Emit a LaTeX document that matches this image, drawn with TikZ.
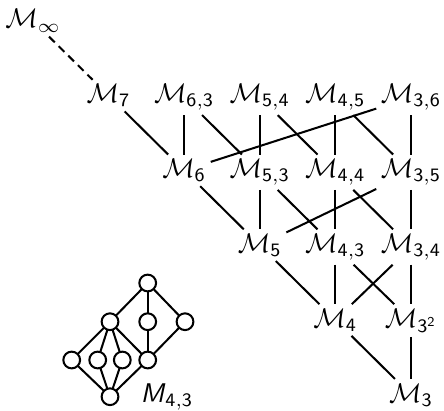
\documentclass[tikz,border=0pt]{standalone}
\usetikzlibrary{arrows.meta}
\newcommand{\Mcal}[1]{$\mathcal{M}_{#1}$}
\begin{document}
\begin{tikzpicture}[x=0.37pt,y=-0.37pt,
  lat/.style={inner sep=1.5pt,anchor=base,font=\fontsize{10}{12}\selectfont},
  edge/.style={line width=0.75pt},
  dot/.style={circle,draw,line width=0.75pt,fill=white,minimum size=6.2pt,inner sep=0pt},
  thin/.style={line width=0.75pt}]
\useasboundingbox (0,0) rectangle (444,410);
% column and row positions of the lattice of structures
\def\cx#1{33+75.6*#1}
\def\ry#1{28+74.8*#1}
\node[lat] (minf) at ({\cx{0}},{\ry{0}}) {$\mathcal{M}_\infty$};
\node[lat] (m7)  at ({\cx{1}},{\ry{1}}) {\Mcal{\mathsf{7}}};
\node[lat] (m63) at ({\cx{2}},{\ry{1}}) {\Mcal{\mathsf{6,3}}};
\node[lat] (m54) at ({\cx{3}},{\ry{1}}) {\Mcal{\mathsf{5,4}}};
\node[lat] (m45) at ({\cx{4}},{\ry{1}}) {\Mcal{\mathsf{4,5}}};
\node[lat] (m36) at ({\cx{5}},{\ry{1}}) {\Mcal{\mathsf{3,6}}};
\node[lat] (m6)  at ({\cx{2}},{\ry{2}}) {\Mcal{\mathsf{6}}};
\node[lat] (m53) at ({\cx{3}},{\ry{2}}) {\Mcal{\mathsf{5,3}}};
\node[lat] (m44) at ({\cx{4}},{\ry{2}}) {\Mcal{\mathsf{4,4}}};
\node[lat] (m35) at ({\cx{5}},{\ry{2}}) {\Mcal{\mathsf{3,5}}};
\node[lat] (m5)  at ({\cx{3}},{\ry{3}}) {\Mcal{\mathsf{5}}};
\node[lat] (m43) at ({\cx{4}},{\ry{3}}) {\Mcal{\mathsf{4,3}}};
\node[lat] (m34) at ({\cx{5}},{\ry{3}}) {\Mcal{\mathsf{3,4}}};
\node[lat] (m4)  at ({\cx{4}},{\ry{4}}) {\Mcal{\mathsf{4}}};
\node[lat] (m32) at ({\cx{5}},{\ry{4}}) {\Mcal{\mathsf{3}^{\mathsf{2}}}};
\node[lat] (m3)  at ({\cx{5}},{\ry{5}}) {\Mcal{\mathsf{3}}};
% covering relations
\draw[edge,dash pattern=on 3pt off 2pt] (minf) -- (m7);
\draw[edge] (m7) -- (m6);
\draw[edge] (m63) -- (m6);  \draw[edge] (m63) -- (m53);
\draw[edge] (m54) -- (m53); \draw[edge] (m54) -- (m44);
\draw[edge] (m45) -- (m44); \draw[edge] (m45) -- (m35);
\draw[edge] (m36) -- (m35); \draw[edge] (m36) -- (m6);
\draw[edge] (m6) -- (m5);
\draw[edge] (m53) -- (m5);  \draw[edge] (m53) -- (m43);
\draw[edge] (m44) -- (m43); \draw[edge] (m44) -- (m34);
\draw[edge] (m35) -- (m34); \draw[edge] (m35) -- (m5);
\draw[edge] (m5) -- (m4);
\draw[edge] (m43) -- (m4);  \draw[edge] (m43) -- (m32);
\draw[edge] (m34) -- (m4);  \draw[edge] (m34) -- (m32);
\draw[edge] (m4) -- (m3);   \draw[edge] (m32) -- (m3);
% Hasse diagram of M_{4,3}
\coordinate (t)  at (147.7,283);
\coordinate (u1) at (110,321.7);
\coordinate (u2) at (147.7,321.7);
\coordinate (u3) at (185,321.7);
\coordinate (a1) at (71.7,360);
\coordinate (a2) at (97.7,360);
\coordinate (a3) at (122.3,360);
\coordinate (a4) at (147.7,360);
\coordinate (b)  at (110,396.7);
\foreach \p/\q in {t/u1,t/u2,t/u3,u1/a1,u1/a2,u1/a3,u1/a4,u2/a4,u3/a4,b/a1,b/a2,b/a3,b/a4}
  \draw[thin] (\p) -- (\q);
\foreach \p in {t,u1,u2,u3,a1,a2,a3,a4,b}
  \node[dot] (d\p) at (\p) {};
\node[font=\fontsize{10}{12}\selectfont,anchor=base west,inner sep=0pt] (lbl) at (140,402)
  {$\textsf{\textit{M}}_{\mathsf{4,3}}$};
\end{tikzpicture}
\end{document}
